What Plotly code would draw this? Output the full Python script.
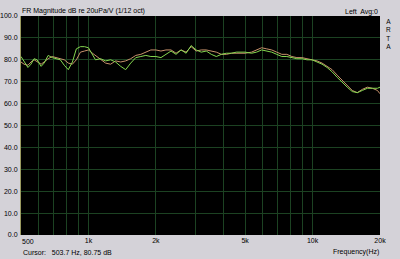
import plotly.graph_objects as go

freq_hz = [500, 516, 537, 554, 572, 590, 615, 634, 661, 689, 718, 749, 780, 813, 848,
           883, 921, 960, 1000, 1042, 1075, 1132, 1192, 1256, 1322, 1393, 1466, 1544,
           1626, 1713, 1803, 1899, 2000, 2106, 2218, 2336, 2460, 2590, 2728, 2873, 3025,
           3186, 3355, 3533, 3721, 3918, 4126, 4345, 4576, 4819, 5000, 5344, 5628, 5927,
           6242, 6573, 6922, 7290, 7677, 8085, 8514, 8966, 9442, 9943, 10471, 11026,
           11612, 12229, 12878, 13562, 14282, 15041, 15840, 16680, 17566, 18497, 19480, 20000]

green_db = [81.5, 79.5, 76.5, 78.0, 80.5, 80.0, 77.0, 78.5, 82.0, 81.0, 80.5, 80.0, 77.5, 75.5, 79.0,
            85.0, 86.0, 86.0, 85.5, 82.5, 80.0, 80.5, 79.5, 80.0, 79.0, 77.0, 75.5, 78.5,
            81.0, 81.5, 82.0, 81.5, 81.5, 81.0, 82.5, 84.0, 82.5, 84.5, 83.0, 86.5, 84.5,
            83.5, 84.0, 82.5, 81.5, 82.5, 83.0, 83.0, 83.5, 83.5, 83.5, 83.0, 83.5, 84.5,
            84.0, 83.5, 82.5, 81.5, 81.5, 81.0, 80.5, 80.5, 80.0, 80.0, 79.0, 78.0,
            76.5, 74.5, 72.0, 69.5, 67.5, 65.5, 65.0, 66.0, 67.0, 67.0, 67.0, 67.5]

tan_db = [79.0, 78.0, 77.5, 79.0, 80.0, 79.0, 78.0, 79.0, 80.5, 81.5, 81.0, 80.5, 80.0, 78.5, 78.0,
          80.0, 83.5, 84.0, 84.5, 83.0, 82.0, 80.0, 78.5, 78.0, 79.5, 79.0, 79.5, 80.5,
          82.0, 82.5, 83.5, 84.5, 84.5, 84.0, 84.5, 84.5, 83.0, 84.5, 83.5, 86.0, 84.0,
          84.5, 84.5, 84.0, 83.5, 82.5, 82.5, 83.0, 83.0, 83.0, 83.0, 83.5, 84.5, 85.5,
          85.0, 84.5, 83.5, 82.5, 82.5, 81.5, 81.0, 81.0, 80.5, 80.0, 79.5, 78.5,
          77.0, 75.5, 73.0, 70.5, 68.0, 66.0, 65.0, 66.5, 67.5, 67.0, 66.0, 64.5]

x_grid = [500, 600, 700, 800, 900, 1000, 2000, 3000, 4000, 5000, 6000, 7000, 8000, 9000, 10000, 20000]
x_text = ["", "", "", "", "", "1k", "2k", "", "", "5k", "", "", "", "", "10k", "20k"]
x_first_label = "500"
y_ticks = [0, 10, 20, 30, 40, 50, 60, 70, 80, 90, 100]
y_text = ["0.0", "10.0", "20.0", "30.0", "40.0", "50.0", "60.0", "70.0", "80.0", "90.0", "100.0"]

W, H = 400, 259
L, R, T, B = 21, 380, 16, 235
FONT = "Liberation Sans"
BG = "#d4d2d8"
GRID = "#1c4222"
FS = 7

def px(x):
    return (x - L) / (R - L)

def py(y):
    return (B - y) / (B - T)

fig = go.Figure()
fig.add_trace(go.Scatter(x=freq_hz, y=tan_db, mode="lines",
                         line=dict(color="#c8926c", width=1), showlegend=False))
fig.add_trace(go.Scatter(x=freq_hz, y=green_db, mode="lines",
                         line=dict(color="#86d850", width=1), showlegend=False))

fig.update_layout(
    width=W, height=H,
    margin=dict(l=L, r=W - R, t=T, b=H - B, autoexpand=False),
    paper_bgcolor=BG, plot_bgcolor="black",
    font=dict(family=FONT, size=FS, color="black"),
    xaxis=dict(type="log", range=[2.699, 4.301], tickmode="array", automargin=False,
               tickvals=x_grid, ticktext=x_text, showgrid=True, gridcolor=GRID,
               gridwidth=1, zeroline=False, ticks="", ticklen=0,
               tickfont=dict(size=FS, family=FONT), showline=False),
    yaxis=dict(range=[0, 100], tickmode="array", tickvals=y_ticks, ticktext=y_text,
               automargin=False, ticklabelstandoff=1,
               showgrid=True, gridcolor=GRID, gridwidth=1, zeroline=False, ticks="",
               tickfont=dict(size=FS, family=FONT), showline=True, linecolor="#9a9a60",
               linewidth=1),
)

def note(text, x, y, xanchor="left", size=FS, yanchor="middle"):
    fig.add_annotation(text=text, x=px(x), y=py(y), xref="paper", yref="paper",
                       xanchor=xanchor, yanchor=yanchor, showarrow=False,
                       font=dict(family=FONT, size=size, color="black"))

note("FR Magnitude dB re 20uPa/V (1/12 oct)", 20, 11)
note("Left  Avg:0", 380, 12, xanchor="right")
note("A<br>R<br>T<br>A", 388, 16, xanchor="center", size=6.5, yanchor="top")
note(x_first_label, 20, 241.5)
note("Cursor:   503.7 Hz, 80.75 dB", 21, 252)
note("Frequency(Hz)", 381, 252, xanchor="right")

fig.write_html("out.html")
